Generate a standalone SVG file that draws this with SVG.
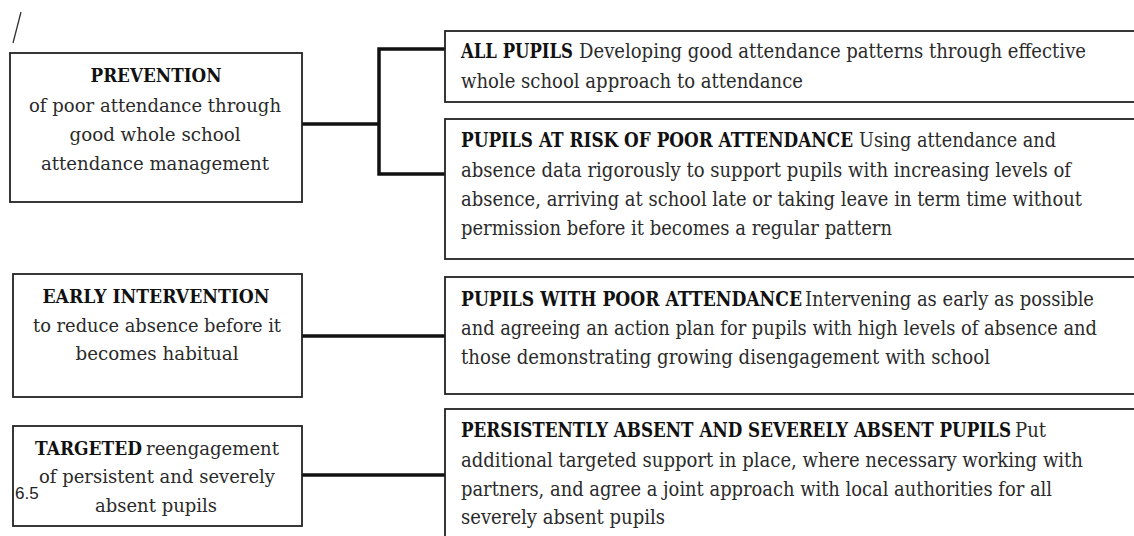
<svg xmlns="http://www.w3.org/2000/svg" width="1134" height="536" viewBox="0 0 1134 536">
<style>
.box{fill:#fff;stroke:#222;stroke-width:1.8}
.conn{fill:none;stroke:#111;stroke-width:3.5;stroke-linecap:square}
text{font-family:"DejaVu Serif","Liberation Serif",serif;font-size:18.5px;fill:#2a2a2a}
.r{font-size:19.5px}
.c{text-anchor:middle}
.b{font-weight:bold;fill:#111}
.num{font-family:"Liberation Sans",Arial,sans-serif;font-size:17px;fill:#222}
</style>
<rect width="1134" height="536" fill="#fff"/>
<line x1="21" y1="12" x2="13" y2="43" stroke="#333" stroke-width="1.3"/>
<g id="connectors">
<path class="conn" d="M302 124 H379 M379 49 V174 M379 49 H445 M379 174 H445"/>
<path class="conn" d="M302 336 H445"/>
<path class="conn" d="M302 475 H445"/>
</g>
<g id="prevention">
<rect class="box" x="10" y="53" width="292" height="149"/>
<text class="c b" x="156" y="82" textLength="131" lengthAdjust="spacingAndGlyphs">PREVENTION</text>
<text class="c" x="155" y="112" textLength="252" lengthAdjust="spacingAndGlyphs">of poor attendance through</text>
<text class="c" x="155" y="141" textLength="171" lengthAdjust="spacingAndGlyphs">good whole school</text>
<text class="c" x="155" y="170" textLength="228" lengthAdjust="spacingAndGlyphs">attendance management</text>
</g>
<g id="early">
<rect class="box" x="13" y="274" width="289" height="123"/>
<text class="c b" x="156" y="303" textLength="227" lengthAdjust="spacingAndGlyphs">EARLY INTERVENTION</text>
<text class="c" x="157" y="332" textLength="248" lengthAdjust="spacingAndGlyphs">to reduce absence before it</text>
<text class="c" x="157" y="360" textLength="163" lengthAdjust="spacingAndGlyphs">becomes habitual</text>
</g>
<g id="targeted">
<rect class="box" x="13" y="426" width="289" height="100"/>
<text class="b" x="35" y="455" textLength="107" lengthAdjust="spacingAndGlyphs">TARGETED</text>
<text x="146" y="455" textLength="133" lengthAdjust="spacingAndGlyphs">reengagement</text>
<text class="c" x="157" y="483" textLength="236" lengthAdjust="spacingAndGlyphs">of persistent and severely</text>
<text class="c" x="156" y="512" textLength="122" lengthAdjust="spacingAndGlyphs">absent pupils</text>
<text class="num" x="15" y="499">6.5</text>
</g>
<g id="all-pupils">
<rect class="box" x="445" y="31" width="700" height="71"/>
<text class="r b" x="461" y="58" textLength="112" lengthAdjust="spacingAndGlyphs">ALL PUPILS</text>
<text class="r" x="579" y="58" textLength="507" lengthAdjust="spacingAndGlyphs">Developing good attendance patterns through effective</text>
<text class="r" x="461" y="88" textLength="342" lengthAdjust="spacingAndGlyphs">whole school approach to attendance</text>
</g>
<g id="at-risk">
<rect class="box" x="445" y="119" width="700" height="140"/>
<text class="r b" x="461" y="147" textLength="392" lengthAdjust="spacingAndGlyphs">PUPILS AT RISK OF POOR ATTENDANCE</text>
<text class="r" x="859" y="147" textLength="197" lengthAdjust="spacingAndGlyphs">Using attendance and</text>
<text class="r" x="461" y="177" textLength="610" lengthAdjust="spacingAndGlyphs">absence data rigorously to support pupils with increasing levels of</text>
<text class="r" x="461" y="206" textLength="621" lengthAdjust="spacingAndGlyphs">absence, arriving at school late or taking leave in term time without</text>
<text class="r" x="461" y="235" textLength="431" lengthAdjust="spacingAndGlyphs">permission before it becomes a regular pattern</text>
</g>
<g id="poor-attendance">
<rect class="box" x="445" y="277" width="700" height="117"/>
<text class="r b" x="461" y="306" textLength="341" lengthAdjust="spacingAndGlyphs">PUPILS WITH POOR ATTENDANCE</text>
<text class="r" x="805" y="306" textLength="289" lengthAdjust="spacingAndGlyphs">Intervening as early as possible</text>
<text class="r" x="461" y="335" textLength="636" lengthAdjust="spacingAndGlyphs">and agreeing an action plan for pupils with high levels of absence and</text>
<text class="r" x="461" y="364" textLength="529" lengthAdjust="spacingAndGlyphs">those demonstrating growing disengagement with school</text>
</g>
<g id="persistent">
<rect class="box" x="445" y="409" width="700" height="140"/>
<text class="r b" x="461" y="437" textLength="550" lengthAdjust="spacingAndGlyphs">PERSISTENTLY ABSENT AND SEVERELY ABSENT PUPILS</text>
<text class="r" x="1015" y="437" textLength="31" lengthAdjust="spacingAndGlyphs">Put</text>
<text class="r" x="461" y="467" textLength="622" lengthAdjust="spacingAndGlyphs">additional targeted support in place, where necessary working with</text>
<text class="r" x="461" y="496" textLength="591" lengthAdjust="spacingAndGlyphs">partners, and agree a joint approach with local authorities for all</text>
<text class="r" x="461" y="524" textLength="204" lengthAdjust="spacingAndGlyphs">severely absent pupils</text>
</g>
</svg>
